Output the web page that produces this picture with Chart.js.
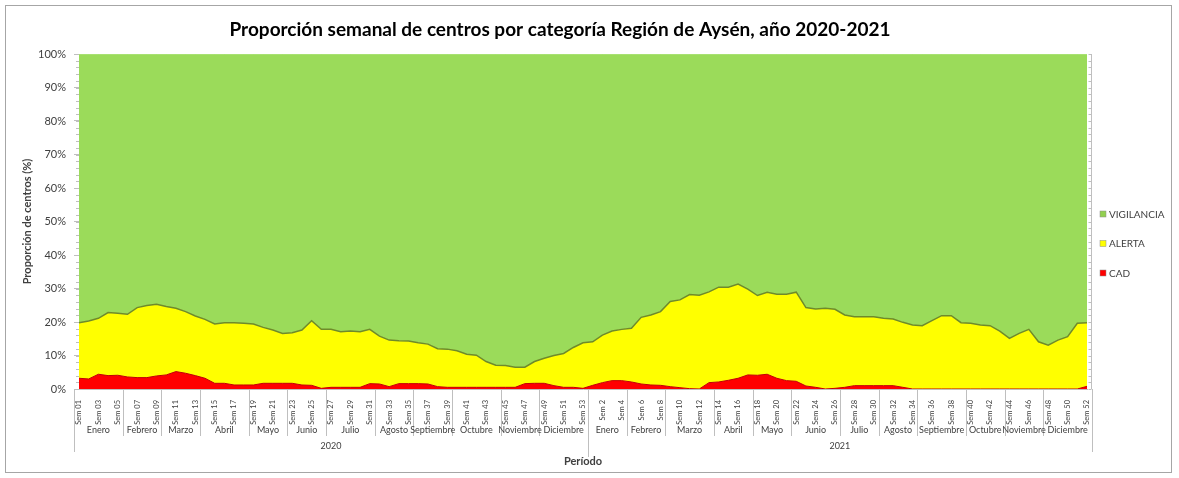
<!DOCTYPE html>
<html>
<head>
<meta charset="utf-8">
<script src="https://cdn.jsdelivr.net/npm/chart.js@4/dist/chart.umd.min.js"></script>
<style>
  html, body { margin: 0; padding: 0; background: #fff; }
  #wrap { width: 1179px; height: 478px; }
</style>
</head>
<body>
<div id="wrap"><canvas id="chart" width="1179" height="478"></canvas></div>
<script>
// semanas: 2020 (Sem 01..Sem 53) y 2021 (Sem 1..Sem 52)
const weeks2020 = Array.from({ length: 53 }, (_, i) => "Sem " + String(i + 1).padStart(2, "0"));
const weeks2021 = Array.from({ length: 52 }, (_, i) => "Sem " + (i + 1));
const weekLabels = weeks2020.concat(weeks2021);

const monthNames = ["Enero", "Febrero", "Marzo", "Abril", "Mayo", "Junio", "Julio", "Agosto", "Septiembre", "Octubre", "Noviembre", "Diciembre"];
const monthWeeks2020 = [5, 4, 4, 5, 4, 4, 5, 4, 4, 5, 4, 5];
const monthWeeks2021 = [4, 4, 5, 4, 4, 5, 4, 4, 5, 4, 4, 5];
const years = ["2020", "2021"];
const yearWeeks = [53, 52];

// proporción (%) de centros por categoría
const cad = [
  3.2, 3.0, 4.4, 4.0, 4.1, 3.6, 3.4, 3.4, 3.9, 4.2, 5.2, 4.7, 4.0, 3.2, 1.7, 1.7, 1.2, 1.2, 1.2, 1.7,
  1.7, 1.7, 1.7, 1.2, 1.1, 0.2, 0.5, 0.5, 0.5, 0.5, 1.6, 1.5, 0.7, 1.6, 1.6, 1.6, 1.5, 0.7, 0.5, 0.5,
  0.5, 0.5, 0.5, 0.5, 0.5, 0.5, 1.6, 1.7, 1.7, 1.0, 0.5, 0.5, 0.2,
  1.1, 1.9, 2.5, 2.5, 2.1, 1.5, 1.2, 1.1, 0.7, 0.4, 0.1, 0.0, 1.9, 2.1, 2.6, 3.2, 4.2, 4.1, 4.4, 3.2,
  2.5, 2.3, 0.9, 0.5, 0.0, 0.2, 0.5, 1.0, 1.0, 1.0, 1.0, 1.0, 0.5, 0.0, 0.0, 0.0, 0.0, 0.0, 0.0, 0.0,
  0.0, 0.0, 0.0, 0.0, 0.0, 0.0, 0.0, 0.0, 0.0, 0.0, 0.0, 0.8
];
const alerta = [
  16.6, 17.3, 16.7, 18.8, 18.5, 18.7, 20.9, 21.5, 21.4, 20.4, 18.9, 18.4, 17.8, 17.6, 17.7, 18.1, 18.6, 18.4, 18.2, 16.7,
  15.9, 14.9, 15.1, 16.4, 19.3, 17.6, 17.3, 16.6, 16.8, 16.6, 16.2, 14.3, 13.9, 12.8, 12.7, 12.2, 11.9, 11.3, 11.4, 10.9,
  9.9, 9.6, 7.7, 6.6, 6.5, 6.0, 4.9, 6.5, 7.5, 9.0, 10.1, 11.9, 13.6,
  13.0, 14.2, 14.8, 15.3, 16.0, 19.9, 20.9, 22.0, 25.4, 26.2, 28.1, 28.0, 27.1, 28.3, 27.8, 28.1, 25.6, 23.8, 24.5, 25.1,
  25.8, 26.6, 23.4, 23.4, 24.1, 23.6, 21.6, 20.6, 20.6, 20.6, 20.1, 19.9, 19.4, 19.1, 18.9, 20.4, 21.9, 21.9, 19.8, 19.6,
  19.1, 18.9, 17.3, 15.1, 16.6, 17.8, 14.1, 13.1, 14.6, 15.6, 19.6, 19.0
];
const vigilancia = [
  80.2, 79.7, 78.9, 77.2, 77.4, 77.7, 75.7, 75.1, 74.7, 75.4, 75.9, 76.9, 78.2, 79.2, 80.6, 80.2, 80.2, 80.4, 80.6, 81.6,
  82.4, 83.4, 83.2, 82.4, 79.6, 82.2, 82.2, 82.9, 82.7, 82.9, 82.2, 84.2, 85.4, 85.6, 85.7, 86.2, 86.6, 88.0, 88.1, 88.6,
  89.6, 89.9, 91.8, 92.9, 93.0, 93.5, 93.5, 91.8, 90.8, 90.0, 89.4, 87.6, 86.2,
  85.9, 83.9, 82.7, 82.2, 81.9, 78.6, 77.9, 76.9, 73.9, 73.4, 71.8, 72.0, 71.0, 69.6, 69.6, 68.7, 70.2, 72.1, 71.1, 71.7,
  71.7, 71.1, 75.7, 76.1, 75.9, 76.2, 77.9, 78.4, 78.4, 78.4, 78.9, 79.1, 80.1, 80.9, 81.1, 79.6, 78.1, 78.1, 80.2, 80.4,
  80.9, 81.1, 82.7, 84.9, 83.4, 82.2, 85.9, 86.9, 85.4, 84.4, 80.4, 80.2
];

const FONT = "Lato, 'Liberation Sans', sans-serif";
const TXT = "#404040";
const AXIS = "#bfbfbf";
const TITLE = "Proporción semanal de centros por categoría Región de Aysén, año 2020-2021";

const legendItems = [
  { label: "VIGILANCIA", color: "#92d050" },
  { label: "ALERTA", color: "#ffff00" },
  { label: "CAD", color: "#ff0000" }
];

const decorations = {
  id: "decorations",
  beforeDraw(chart) {
    const ctx = chart.ctx;
    ctx.save();
    ctx.fillStyle = "#fff";
    ctx.fillRect(0, 0, chart.width, chart.height);
    ctx.strokeStyle = "#a6a6a6";
    ctx.lineWidth = 1;
    ctx.strokeRect(5.5, 5.5, 1166, 467);
    ctx.restore();
  },
  afterDraw(chart) {
    const ctx = chart.ctx;
    const x = chart.scales.x;
    const y = chart.scales.y;
    const area = chart.chartArea;
    const step = x.getPixelForValue(1) - x.getPixelForValue(0);
    const edge = i => x.getPixelForValue(i) - step / 2;
    ctx.save();

    // título
    ctx.fillStyle = "#000";
    ctx.textAlign = "center";
    ctx.textBaseline = "middle";
    ctx.font = "bold 19px " + FONT;
    ctx.fillText(TITLE, 560, 30);

    // marcas menores del eje Y y eje derecho
    ctx.strokeStyle = AXIS;
    ctx.lineWidth = 1;
    const rx = Math.round(area.right + 4) + 0.5;
    ctx.beginPath();
    ctx.moveTo(rx, area.top);
    ctx.lineTo(rx, area.bottom);
    for (let v = 0; v <= 100; v += 2) {
      const py = Math.round(y.getPixelForValue(v)) + 0.5;
      ctx.moveTo(area.left - 3, py);
      ctx.lineTo(area.left, py);
      ctx.moveTo(rx - 3, py);
      ctx.lineTo(rx, py);
    }
    ctx.stroke();

    // separadores de meses y años
    ctx.beginPath();
    let idx = 0;
    const monthRuns = [monthWeeks2020, monthWeeks2021];
    const groups = [];
    monthRuns.forEach(run => {
      run.forEach((n, m) => {
        groups.push({ name: monthNames[m], start: idx, end: idx + n });
        idx += n;
      });
    });
    groups.forEach(g => {
      const px = Math.round(edge(g.end)) + 0.5;
      ctx.moveTo(px, area.bottom);
      ctx.lineTo(px, area.bottom + 47);
    });
    const lx = Math.round(edge(0)) + 0.5;
    ctx.moveTo(lx, area.bottom);
    ctx.lineTo(lx, area.bottom + 63);
    let yi = 0;
    yearWeeks.forEach(n => {
      yi += n;
      const px = Math.round(edge(yi)) + 0.5;
      ctx.moveTo(px, area.bottom + 47);
      ctx.lineTo(px, area.bottom + (yi === weekLabels.length ? 63 : 68));
    });
    ctx.stroke();

    ctx.fillStyle = TXT;
    ctx.font = "9px " + FONT;
    groups.forEach(g => {
      ctx.fillText(g.name, (edge(g.start) + edge(g.end)) / 2, area.bottom + 41);
    });
    let ys = 0;
    years.forEach((label, k) => {
      ctx.fillText(label, (edge(ys) + edge(ys + yearWeeks[k])) / 2, area.bottom + 57);
      ys += yearWeeks[k];
    });

    ctx.font = "bold 11px " + FONT;
    ctx.fillText("Período", (area.left + area.right) / 2, area.bottom + 72);

    // título eje Y
    ctx.save();
    ctx.translate(27, (area.top + area.bottom) / 2);
    ctx.rotate(-Math.PI / 2);
    ctx.fillText("Proporción de centros (%)", 0, 0);
    ctx.restore();

    // leyenda
    ctx.font = "10px " + FONT;
    ctx.textAlign = "left";
    legendItems.forEach((item, k) => {
      const py = 214 + k * 29.5;
      ctx.fillStyle = item.color;
      ctx.fillRect(1100, py - 3, 6, 6);
      ctx.strokeStyle = "#8c8c8c";
      ctx.lineWidth = 0.5;
      ctx.strokeRect(1100, py - 3, 6, 6);
      ctx.fillStyle = TXT;
      ctx.fillText(item.label, 1109, py + 0.5);
    });
    ctx.restore();
  }
};

new Chart(document.getElementById("chart").getContext("2d"), {
  type: "line",
  data: {
    labels: weekLabels,
    datasets: [
      {
        label: "CAD",
        data: cad,
        backgroundColor: "#ff0000",
        borderColor: "#c00000",
        borderWidth: 1,
        fill: "origin",
        pointRadius: 0,
        tension: 0
      },
      {
        label: "ALERTA",
        data: alerta,
        backgroundColor: "#ffff00",
        borderColor: "#6f8a2a",
        borderWidth: 1.5,
        fill: "-1",
        pointRadius: 0,
        tension: 0
      },
      {
        label: "VIGILANCIA",
        data: vigilancia,
        backgroundColor: "#9bdb5a",
        borderColor: "#b6e88a",
        borderWidth: 1,
        fill: "-1",
        pointRadius: 0,
        tension: 0
      }
    ]
  },
  options: {
    responsive: false,
    animation: false,
    layout: { padding: { left: 9, right: 92, top: 54, bottom: 0 } },
    plugins: {
      legend: { display: false },
      tooltip: { enabled: false },
      title: { display: false }
    },
    scales: {
      x: {
        type: "category",
        offset: false,
        grid: { display: false },
        border: { display: true, color: AXIS },
        ticks: {
          autoSkip: false,
          minRotation: 90,
          maxRotation: 90,
          padding: 3,
          color: TXT,
          font: { family: FONT, size: 7.5 },
          callback: function (value, index) {
            return index % 2 === 0 ? this.getLabelForValue(value) : "";
          }
        },
        afterFit: scale => { scale.height = 89; }
      },
      y: {
        stacked: true,
        min: 0,
        max: 100,
        grid: { display: true, drawOnChartArea: false, drawTicks: true, tickLength: 5, color: AXIS },
        border: { display: true, color: AXIS },
        ticks: {
          stepSize: 10,
          padding: 8,
          color: TXT,
          font: { family: FONT, size: 11 },
          callback: v => v + "%"
        },
        afterFit: scale => { scale.width = 70; }
      }
    }
  },
  plugins: [decorations]
});
</script>
</body>
</html>
